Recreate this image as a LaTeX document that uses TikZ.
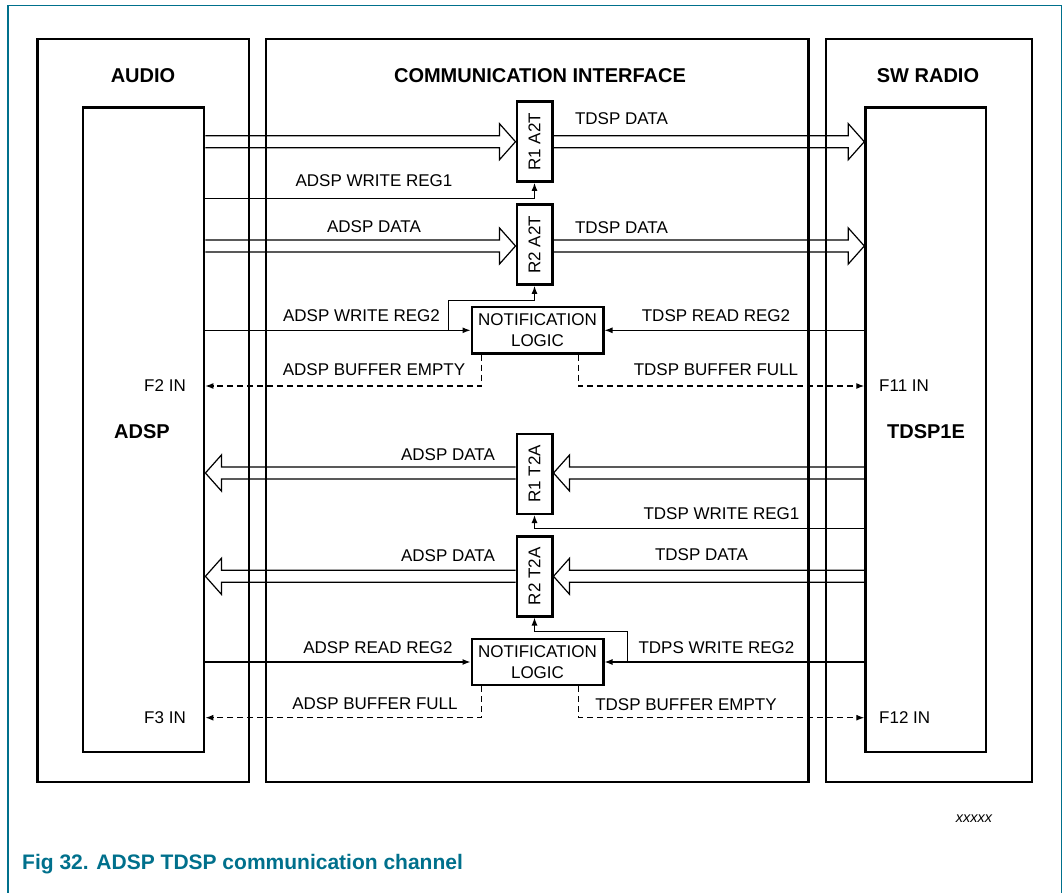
\documentclass[tikz,border=0pt]{standalone}
\usepackage{fontspec}
\setmainfont{Liberation Sans}
\usetikzlibrary{arrows.meta,calc}
\definecolor{figteal}{RGB}{0,112,140}
% hollow bus arrow from #1 to #2
\newcommand{\fatarrow}[2]{%
  \coordinate (fa) at ($(#2)!16pt!(#1)$);
  \draw[fat] ($(#1)!6pt!90:(#2)$) -- ($(fa)!6pt!-90:(#1)$)
    -- ($(fa)!18pt!-90:(#1)$) -- (#2) -- ($(fa)!18pt!90:(#1)$)
    -- ($(fa)!6pt!90:(#1)$) -- ($(#1)!6pt!-90:(#2)$);}

\begin{document}
\begin{tikzpicture}[x=1pt,y=-1pt,>={Latex[length=8pt,width=6pt]},
    outer/.style={draw,line width=2.8pt,inner sep=0pt},
    ttl/.style={font=\fontsize{20}{24}\selectfont\bfseries,inner sep=0pt},
    lbl/.style={font=\fontsize{17}{20}\selectfont,inner sep=0pt},
    reg/.style={draw,line width=2.4pt,minimum width=35.6,minimum height=80,
      inner sep=0pt,font=\fontsize{17}{20}\selectfont},
    notif/.style={draw,line width=2.4pt,minimum width=131.6,minimum height=46,
      inner sep=0pt,align=center,font=\fontsize{17}{21.5}\selectfont},
    sig/.style={->,line width=1.2pt},
    flag/.style={sig,dash pattern=on 6pt off 4pt},
    fat/.style={line width=1.2pt,line join=miter}]
  \useasboundingbox (0,0) rectangle (1063,893);
  \draw[line width=1.5pt,figteal] (8,893) -- (8,5.5) -- (1061.5,5.5) -- (1061.5,893);

  % blocks
  \node[outer,minimum width=211.5,minimum height=743] (audio) at (143.25,410.5) {};
  \node[outer,minimum width=542.5,minimum height=743] (comm) at (537.25,410.5) {};
  \node[outer,minimum width=206,minimum height=743] (radio) at (929,410.5) {};
  \node[ttl] (audiot) at (143,76) {AUDIO};
  \node[ttl] (commt) at (540,76) {COMMUNICATION INTERFACE};
  \node[ttl] (radiot) at (928,76) {SW RADIO};

  \node[outer,minimum width=121,minimum height=644.5] (adsp) at (143.5,429.75) {};
  \node[outer,minimum width=120.3,minimum height=644.5] (tdsp) at (925.85,429.75) {};
  \node[ttl] (adspt) at (142,432) {ADSP};
  \node[ttl] (tdspt) at (926,432) {TDSP1E};

  \node[reg] (r1a2t) at (534.5,141.7) {\rotatebox{90}{R1 A2T}};
  \node[reg] (r2a2t) at (534.5,244.7) {\rotatebox{90}{R2 A2T}};
  \node[reg] (r1t2a) at (534.5,473.8) {\rotatebox{90}{R1 T2A}};
  \node[reg] (r2t2a) at (534.5,576.3) {\rotatebox{90}{R2 T2A}};
  \node[notif] (nl1) at (537.5,330.3) {NOTIFICATION\\LOGIC};
  \node[notif] (nl2) at (537.5,662) {NOTIFICATION\\LOGIC};

  \node[lbl,anchor=east] (f2in) at (186,386) {F2 IN};
  \node[lbl,anchor=west] (f11in) at (879,386) {F11 IN};
  \node[lbl,anchor=east] (f3in) at (186,717.7) {F3 IN};
  \node[lbl,anchor=west] (f12in) at (879,717.7) {F12 IN};

  % buses
  \coordinate (a1) at (adsp.east |- r1a2t);
  \coordinate (t1) at (tdsp.west |- r1a2t);
  \coordinate (a2) at (adsp.east |- 0,246);
  \coordinate (t2) at (tdsp.west |- 0,246);
  \coordinate (a3) at (adsp.east |- 0,473);
  \coordinate (t3) at (tdsp.west |- 0,473);
  \coordinate (a4) at (adsp.east |- r2t2a);
  \coordinate (t4) at (tdsp.west |- r2t2a);
  \fatarrow{a1}{r1a2t.west}
  \fatarrow{r1a2t.east}{t1}
  \fatarrow{a2}{r2a2t.west |- a2}
  \fatarrow{r2a2t.east |- t2}{t2}
  \fatarrow{t3}{r1t2a.east |- t3}
  \fatarrow{r1t2a.west |- a3}{a3}
  \fatarrow{t4}{r2t2a.east}
  \fatarrow{r2t2a.west}{a4}

  % register writes and flags
  \draw[sig] (adsp.east |- 0,198.5) -| (r1a2t.south);
  \draw[sig] (adsp.east |- nl1.west) -- (nl1.west);
  \draw[sig] ([xshift=-22pt]nl1.west) |- ([yshift=-15pt]r2a2t.south) -- (r2a2t.south);
  \draw[sig] (tdsp.west |- nl1.east) -- (nl1.east);
  \draw[flag] ([xshift=11pt]nl1.south west) |- (adsp.east |- f2in);
  \draw[flag] ([xshift=-26pt]nl1.south east) |- (tdsp.west |- f11in);

  \draw[sig] (tdsp.west |- 0,528.3) -| (r1t2a.south);
  \draw[sig] (adsp.east |- nl2.west) -- (nl2.west);
  \draw[sig] (tdsp.west |- nl2.east) -- (nl2.east);
  \draw[sig] ([xshift=23pt]nl2.east) |- ([yshift=-14pt]r2t2a.south) -- (r2t2a.south);
  \draw[flag] ([xshift=11pt]nl2.south west) |- (adsp.east |- f3in);
  \draw[flag] ([xshift=-26pt]nl2.south east) |- (tdsp.west |- f12in);

  % labels
  \node[lbl] (tdata1) at (621.5,119) {TDSP DATA};
  \node[lbl] (awreg1) at (374,181) {ADSP WRITE REG1};
  \node[lbl] (adata1) at (374,227) {ADSP DATA};
  \node[lbl] (tdata2) at (621.5,228) {TDSP DATA};
  \node[lbl] (awreg2) at (361.5,316) {ADSP WRITE REG2};
  \node[lbl] (trreg2) at (716,316) {TDSP READ REG2};
  \node[lbl] (abempty) at (374,370) {ADSP BUFFER EMPTY};
  \node[lbl] (tbfull) at (716,370) {TDSP BUFFER FULL};
  \node[lbl] (adata2) at (448,455) {ADSP DATA};
  \node[lbl] (twreg1) at (721.5,514) {TDSP WRITE REG1};
  \node[lbl] (adata3) at (448,556) {ADSP DATA};
  \node[lbl] (tdata3) at (701.5,555) {TDSP DATA};
  \node[lbl] (arreg2) at (378,648) {ADSP READ REG2};
  \node[lbl] (twreg2) at (716.5,648) {TDPS WRITE REG2};
  \node[lbl] (abfull) at (375,704) {ADSP BUFFER FULL};
  \node[lbl] (tbempty) at (686,705) {TDSP BUFFER EMPTY};

  \node[font=\fontsize{14.5}{17}\selectfont\itshape,inner sep=0pt] (code) at (974,819) {xxxxx};
  \node[anchor=west,inner sep=0pt,text=figteal,font=\fontsize{21}{25}\selectfont\bfseries]
    (caption) at (22,864) {Fig 32. ADSP TDSP communication channel};
\end{tikzpicture}
\end{document}
